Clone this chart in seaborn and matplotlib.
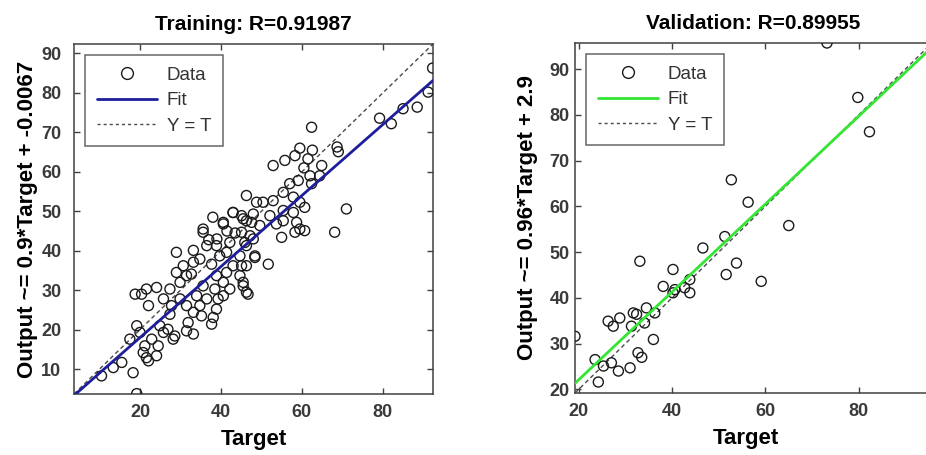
import matplotlib
matplotlib.use("Agg")
import matplotlib.pyplot as plt
import seaborn as sns
import numpy as np
import pandas as pd
from matplotlib.lines import Line2D

# ---------------- data ----------------
train_target = [92.3, 91.2, 88.5, 85.0, 82.1, 79.2, 62.4, 68.7, 69.0, 71.0, 59.5, 58.3, 55.8, 52.9,
                61.5, 64.9, 62.0, 64.4, 62.4, 59.1, 57.0, 55.4, 57.9, 52.9, 50.4, 46.3, 59.5, 60.7,
                55.4, 57.9, 52.1, 48.0, 45.1, 58.7, 53.7, 68.1, 60.7, 59.5, 58.3, 55.0, 51.7, 48.4,
                46.3, 45.5, 55.4, 49.6, 45.9, 47.2, 45.1, 48.8, 43.0, 40.6, 35.6, 46.3, 62.6, 60.5,
                38.0, 41.5, 39.0, 43.5, 37.0,
                19.2, 10.5, 13.4, 15.5, 18.3, 17.5, 19.2, 20.0, 18.8, 20.4, 21.6, 24.1, 22.1, 21.2,
                21.6, 22.1, 24.1, 20.8, 22.9, 24.5, 25.8, 24.9, 26.9, 27.4, 25.8, 27.8, 27.4, 29.0,
                29.9, 28.6, 28.2, 31.5, 33.2, 31.9, 33.2, 31.5, 29.9, 34.0, 31.5, 32.7, 29.0, 30.7,
                33.2, 33.2, 34.8, 35.6, 36.5, 35.6, 36.5, 34.8, 35.2, 38.1, 37.7, 38.9, 38.5, 38.9,
                37.7, 39.7, 38.9, 40.6, 43.0, 42.2, 41.4, 43.0, 41.4, 40.6, 42.2, 40.6, 39.3, 44.7,
                46.3, 46.7, 45.5, 44.7, 46.3, 45.1, 48.0, 48.4, 47.6, 45.5]
train_output = [86.3, 80.2, 76.4, 76.0, 72.2, 73.6, 71.3, 66.3, 65.1, 50.6, 66.0, 64.1, 62.9, 61.6,
                63.3, 61.6, 59.0, 59.0, 57.0, 57.8, 57.0, 54.8, 53.6, 52.7, 52.3, 54.0, 52.3, 51.0,
                50.2, 49.7, 48.9, 49.3, 48.9, 47.2, 46.8, 44.7, 45.1, 45.5, 44.7, 43.4, 36.6, 38.3,
                29.5, 31.1, 47.6, 46.4, 42.1, 43.8, 36.2, 52.3, 49.7, 47.2, 45.5, 47.6, 65.5, 61.0,
                48.5, 45.0, 43.0, 44.5, 42.8,
                3.8, 8.3, 10.4, 11.7, 9.1, 17.6, 21.0, 19.3, 29.0, 29.0, 30.3, 30.7, 26.1, 15.9,
                12.9, 12.1, 13.4, 14.2, 17.6, 15.9, 19.3, 21.0, 20.1, 23.9, 27.8, 26.1, 30.3, 39.6,
                32.0, 18.4, 17.6, 19.7, 18.9, 21.8, 24.4, 26.1, 27.8, 28.6, 33.7, 34.1, 34.5, 36.2,
                37.1, 40.1, 37.9, 44.7, 41.3, 31.1, 27.8, 26.1, 23.5, 23.1, 21.4, 25.2, 30.3, 33.7,
                36.6, 38.7, 41.3, 46.8, 49.7, 42.1, 39.6, 36.2, 34.5, 32.0, 30.3, 28.6, 27.8, 33.7,
                36.2, 29.0, 32.0, 38.7, 41.3, 44.7, 43.0, 38.7, 47.2, 48.1]

val_target = [19.2, 23.5, 24.2, 25.3, 26.3, 27.4, 27.0, 28.5, 28.8, 31.0, 31.3, 31.7, 32.4, 32.7,
              33.5, 33.1, 34.1, 34.5, 36.3, 36.0, 38.1, 40.2, 40.2, 40.6, 42.7, 43.8, 43.8, 46.6,
              51.3, 51.6, 53.8, 56.3, 59.1, 52.7, 73.2, 79.8, 82.3, 65.0]
val_output = [31.6, 26.5, 21.6, 25.1, 34.9, 33.8, 25.8, 24.0, 35.6, 24.7, 33.8, 36.7, 36.4, 28.0,
              27.0, 48.0, 34.5, 37.8, 36.7, 30.9, 42.5, 46.2, 41.1, 41.8, 42.2, 44.0, 41.1, 50.9,
              53.4, 45.1, 47.6, 60.9, 43.6, 65.8, 95.7, 83.8, 76.3, 55.8]

train_fit = [0.9, -0.0067]   # slope, intercept
val_fit = [0.96, 2.9]
train_lim = [3.7, 92.4]
val_lim = [19.2, 95.7]
titles = ["Training: R=0.91987", "Validation: R=0.89955"]
ylabels = ["Output ~= 0.9*Target + -0.0067", "Output ~= 0.96*Target + 2.9"]
fit_colors = ["#1e1e9c", "#33e633"]

# ---------------- figure ----------------
sns.set_theme(style="white")
plt.rcParams["font.family"] = ["Liberation Sans", "DejaVu Sans"]

W, H = 926, 455
fig = plt.figure(figsize=(W / 100, H / 100), dpi=100)

def frac(l, t, r, b):
    return [l / W, 1 - b / H, (r - l) / W, (b - t) / H]

ax1 = fig.add_axes(frac(74, 44, 433, 394))
ax2 = fig.add_axes(frac(575, 43, 932, 393))

panels = [
    (ax1, train_target, train_output, train_fit, train_lim, 0, 9),
    (ax2, val_target, val_output, val_fit, val_lim, 1, 4),
]

for ax, tx, ty, fit, lim, i, ypad in panels:
    df = pd.DataFrame({"Target": tx, "Output": ty})
    sns.scatterplot(data=df, x="Target", y="Output", ax=ax, s=52, marker="o",
                    facecolors="none", edgecolors="#1a1a1a", linewidth=1.0,
                    legend=False, zorder=3)
    ref = pd.DataFrame({"x": lim, "y": lim})
    sns.lineplot(data=ref, x="x", y="y", ax=ax, color="#4a4a4a", linewidth=1.0,
                 linestyle=(0, (3, 2.2)), zorder=2)
    fitdf = pd.DataFrame({"x": lim, "y": [fit[0] * v + fit[1] for v in lim]})
    sns.lineplot(data=fitdf, x="x", y="y", ax=ax, color=fit_colors[i], linewidth=2.0,
                 zorder=4)

    ax.set_xlim(lim)
    ax.set_ylim(lim)
    ax.set_xticks([20, 40, 60, 80])
    if i == 0:
        ax.set_yticks([10, 20, 30, 40, 50, 60, 70, 80, 90])
    else:
        ax.set_yticks([20, 30, 40, 50, 60, 70, 80, 90])
    ax.tick_params(direction="in", length=4, width=1, top=True, right=True,
                   bottom=True, left=True,
                   labelsize=13, labelcolor="#3a3a3a", color="#404040")
    ax.tick_params(axis="y", pad=ypad)
    ax.tick_params(axis="x", pad=7)
    for lbl in ax.get_xticklabels() + ax.get_yticklabels():
        lbl.set_fontweight("bold")
    for sp in ax.spines.values():
        sp.set_color("#404040")
        sp.set_linewidth(1.1)
        sp.set_visible(True)

    ax.set_title(titles[i], fontsize=15, fontweight="bold", color="black", pad=10)
    ax.set_xlabel("Target", fontsize=16, fontweight="bold", color="black")
    ax.set_ylabel(ylabels[i], fontsize=16, fontweight="bold", color="black")

    handles = [
        Line2D([], [], linestyle="none", marker="o", markersize=8.5,
               markerfacecolor="none", markeredgecolor="#1a1a1a", markeredgewidth=1.0),
        Line2D([], [], color=fit_colors[i], linewidth=2.0),
        Line2D([], [], color="#4a4a4a", linewidth=1.0, linestyle=(0, (2.2, 2.2))),
    ]
    leg = ax.legend(handles, ["Data", "Fit", "Y = T"], loc="upper left",
                    fontsize=13.5, frameon=True, fancybox=False, shadow=False,
                    handlelength=3.25, handletextpad=0.5, borderpad=0.6,
                    labelspacing=0.45, borderaxespad=0.6, numpoints=1)
    leg.get_frame().set_edgecolor("#404040")
    leg.get_frame().set_linewidth(1.1)
    for t in leg.get_texts():
        t.set_color("#333333")

ax1.xaxis.set_label_coords(0.5, -0.1)
ax2.xaxis.set_label_coords(0.479, -0.1)
ax1.yaxis.set_label_coords(-0.1, 0.5)
ax2.yaxis.set_label_coords(-0.104, 0.5)

fig.savefig("out.png", dpi=100)
